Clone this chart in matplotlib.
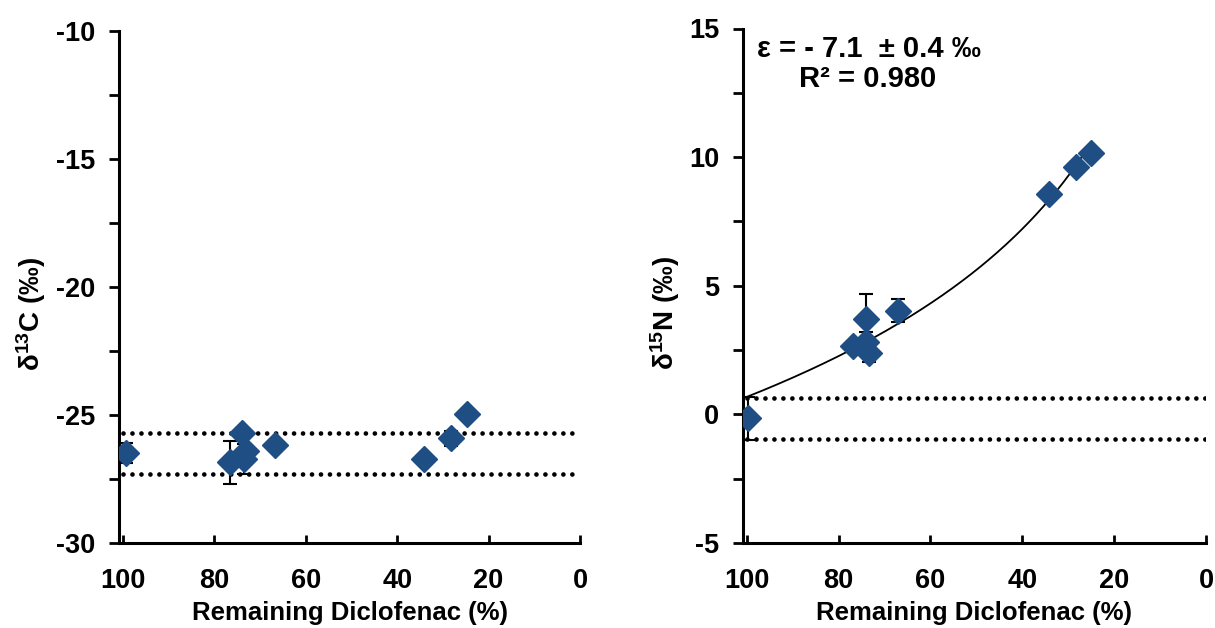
import numpy as np
import matplotlib
matplotlib.use("Agg")
import matplotlib.pyplot as plt

plt.rcParams['font.family'] = ['Liberation Sans', 'DejaVu Sans']
plt.rcParams['font.weight'] = 'bold'
plt.rcParams['mathtext.fontset'] = 'custom'
plt.rcParams['mathtext.rm'] = 'Liberation Sans:bold'
plt.rcParams['mathtext.bf'] = 'Liberation Sans:bold'
plt.rcParams['mathtext.default'] = 'rm'
plt.rcParams['axes.unicode_minus'] = False

# ---- data ----
c_remaining = [99.3, 76.6, 73.9, 73.0, 73.5, 66.8, 34.1, 28.3, 24.8]
c_delta13 = [-26.48, -26.85, -25.69, -26.39, -26.72, -26.18, -26.72, -25.91, -24.97]
c_err = [0.39, 0.83, 0.20, 0.15, 0.60, 0.10, 0.10, 0.30, 0.20]
c_band = [-25.69, -27.30]

n_remaining = [99.8, 76.9, 74.0, 74.0, 73.3, 67.0, 34.1, 28.3, 25.0]
n_delta15 = [-0.15, 2.67, 3.69, 2.82, 2.40, 4.03, 8.55, 9.60, 10.17]
n_err = [0.83, 0.10, 0.99, 0.40, 0.35, 0.45, 0.10, 0.10, 0.10]
n_band = [0.65, -0.97]

# Rayleigh fit parameters
eps_N = -7.1
delta0_N = 0.68
fit_range = [100, 25]

x_ticks = [100, 80, 60, 40, 20, 0]
c_ticks = [-10, -15, -20, -25, -30]
n_ticks = [15, 10, 5, 0, -5]

marker_color = '#1F4E85'
FS_TICK = 19.5
FS_LAB = 18.5
FS_ANN = 21

fig = plt.figure(figsize=(12.15, 6.28), dpi=100)
ax1 = fig.add_axes([119/1215, 85/628, 461/1215, 512/628])
ax2 = fig.add_axes([742.7/1215, 85/628, 463.3/1215, 514.5/628])


def style(ax, ylim, yticks):
    ax.set_xlim(100.9, 0)
    ax.set_ylim(*ylim)
    ax.set_xticks(x_ticks)
    ax.set_yticks(yticks)
    ax.set_yticks(np.arange(ylim[0], ylim[1] + 0.01, 2.5), minor=True)
    for s in ['top', 'right']:
        ax.spines[s].set_visible(False)
    for s in ['left', 'bottom']:
        ax.spines[s].set_linewidth(2.2)
        ax.spines[s].set_color('black')
    ax.tick_params(axis='y', which='both', direction='out', length=7, width=2, labelsize=FS_TICK, pad=10)
    ax.tick_params(axis='x', which='both', direction='in', length=6, width=2, labelsize=FS_TICK, pad=18)
    for lab in ax.get_xticklabels() + ax.get_yticklabels():
        lab.set_fontweight('bold')
    ax.set_xlabel('Remaining Diclofenac (%)', fontsize=FS_LAB, fontweight='bold', labelpad=5)
    ax.patch.set_alpha(0)


def band(ax, values):
    for yb in values:
        ax.plot([100, 0], [yb, yb], color='black', lw=3.4, linestyle=(0, (0.001, 1.9)),
                dash_capstyle='round', zorder=1)


# Left: carbon
band(ax1, c_band)
ax1.errorbar(c_remaining, c_delta13, yerr=c_err, fmt='none', ecolor='black',
             elinewidth=1.5, capsize=4.7, capthick=1.5, zorder=2)
ax1.plot(c_remaining, c_delta13, 'D', color=marker_color, ms=13.5, zorder=3)
style(ax1, (-30, -10), c_ticks)
ax1.set_ylabel('δ$^{13}$C (‰)', fontsize=20, fontweight='bold')
ax1.yaxis.set_label_coords(-0.155, 0.447)

# Right: nitrogen
band(ax2, n_band)
f = np.linspace(fit_range[0], fit_range[1], 200)
fit = (delta0_N + 1000) * (f / 100.0) ** (eps_N / 1000.0) - 1000
ax2.plot(f, fit, color='black', lw=1.3, zorder=2)
ax2.errorbar(n_remaining, n_delta15, yerr=n_err, fmt='none', ecolor='black',
             elinewidth=1.5, capsize=4.7, capthick=1.5, zorder=2)
ax2.plot(n_remaining, n_delta15, 'D', color=marker_color, ms=13.5, zorder=3)
style(ax2, (-5, 15), n_ticks)
ax2.set_ylabel('δ$^{15}$N (‰)', fontsize=20, fontweight='bold')
ax2.yaxis.set_label_coords(-0.130, 0.447)

ax2.text(0.273, 0.945, 'ε = - 7.1  ± 0.4 ‰', transform=ax2.transAxes, ha='center', va='baseline',
         fontsize=FS_ANN, fontweight='bold')
ax2.text(0.27, 0.886, 'R² = 0.980', transform=ax2.transAxes, ha='center', va='baseline',
         fontsize=FS_ANN, fontweight='bold')

fig.savefig('out.png', dpi=100)
